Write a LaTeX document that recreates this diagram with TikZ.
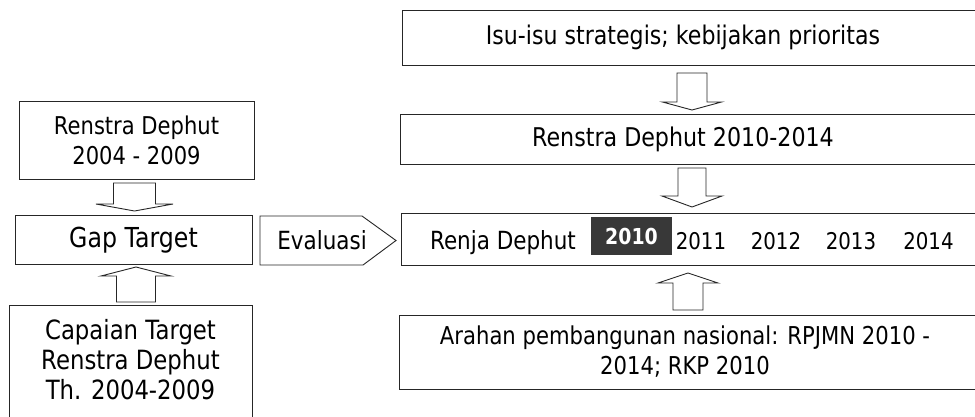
\documentclass[tikz,border=0pt]{standalone}
\usepackage{fontspec}
\setmainfont{DejaVu Sans}[FakeStretch=0.86]
\usetikzlibrary{calc}
\tikzset{
  boxline/.style={draw=black!85, line width=0.9pt},
  boxnode/.style={boxline, inner sep=0pt, outer sep=0pt},
  txt/.style={inner sep=0pt, outer sep=0pt, align=center, text=black},
  arrowshape/.style={boxline, fill=white, line join=miter},
}
\newcommand{\blkarrow}[7]{%
  \path ($(#1)!#3!(#2)$) coordinate (bs) ($(#2)!#4!(#1)$) coordinate (bt);
  \path ($(bt)!#5!(bs)$) coordinate (bb);
  \draw[arrowshape] ($(bs)!#6!90:(bt)$) -- ($(bb)!#6!90:(bt)$) -- ($(bb)!#7!90:(bt)$) -- (bt)
     -- ($(bb)!#7!-90:(bt)$) -- ($(bb)!#6!-90:(bt)$) -- ($(bs)!#6!-90:(bt)$) -- cycle;}
\begin{document}
\begin{tikzpicture}[x=1pt,y=-1pt]
\useasboundingbox (0,0) rectangle (975,416);
\clip (0,0) rectangle (975,416);
\fill[white] (0,0) rectangle (975,416);

% left column boxes
\node[boxnode, minimum width=235pt, minimum height=78pt] (r04) at (136.5,140) {};
\node[boxnode, minimum width=237pt, minimum height=49pt] (gap) at (133.5,239.5) {};
\node[boxnode, minimum width=243pt, minimum height=125pt] (cap) at (130.5,367.5) {};

% right column boxes (open to the right edge)
\node[boxnode, minimum width=588pt, minimum height=55pt] (isu) at (696,37.5) {};
\node[boxnode, minimum width=590pt, minimum height=50pt] (ren10) at (695,139) {};
\node[boxnode, minimum width=589pt, minimum height=52pt] (renja) at (695.5,239) {};
\node[boxnode, minimum width=591pt, minimum height=74pt] (arahan) at (694.5,352) {};

% Evaluasi pentagon
\draw[boxline, line join=miter] (260,216) -- (362,216) -- (396,240.5) -- (363,265) -- (260,265) -- cycle;

% texts
\node[txt, font=\fontsize{24.5}{30}\selectfont] (r04T) at (136.5,140) {Renstra Dephut\\2004 - 2009};
\node[txt, font=\fontsize{27.5}{30}\selectfont] (gapT) at (133.5,240) {Gap Target};
\node[txt, font=\fontsize{26.5}{30}\selectfont] (capT) at (130.5,360) {Capaian Target\\Renstra Dephut\\Th. 2004-2009};
\node[txt, font=\fontsize{25}{30}\selectfont] (evalT) at (322,240.5) {Evaluasi};
\node[txt, font=\fontsize{25.7}{30}\selectfont] (isuT) at (683,37.5) {Isu-isu strategis; kebijakan prioritas};
\node[txt, font=\fontsize{25.8}{30}\selectfont] (ren10T) at (683,139) {Renstra Dephut 2010-2014};
\node[txt, font=\fontsize{25}{30}\selectfont, anchor=base west] (renjaT) at (430,249) {Renja Dephut};
\node[inner sep=0pt, fill=black!78, minimum width=81pt, minimum height=38pt, text=white,
      font=\fontsize{22}{24}\bfseries] (y2010) at (631.5,236) {2010};
\node[txt, font=\fontsize{23}{30}\selectfont, anchor=base] (y2011) at (701,249) {2011};
\node[txt, font=\fontsize{23}{30}\selectfont, anchor=base] (y2012) at (776,249) {2012};
\node[txt, font=\fontsize{23}{30}\selectfont, anchor=base] (y2013) at (851,249) {2013};
\node[txt, font=\fontsize{23}{30}\selectfont, anchor=base] (y2014) at (928.5,249) {2014};
\node[txt, font=\fontsize{24.6}{30}\selectfont] (arahanT) at (685,352) {Arahan pembangunan nasional: RPJMN 2010 -\\2014; RKP 2010};

% block arrows
\coordinate (a1f) at ($(r04.south)+(-2,0)$);   \coordinate (a1t) at (a1f |- gap.north);
\coordinate (a2f) at ($(cap.north)+(5.5,0)$);  \coordinate (a2t) at (a2f |- gap.south);
\coordinate (a3f) at ($(isu.south)+(-4,0)$);   \coordinate (a3t) at (a3f |- ren10.north);
\coordinate (a4f) at ($(ren10.south)+(-3,0)$); \coordinate (a4t) at (a4f |- renja.north);
\coordinate (a5f) at ($(arahan.north)+(-6.5,0)$); \coordinate (a5t) at (a5f |- renja.south);
\blkarrow{a1f}{a1t}{4pt}{4pt}{7pt}{21pt}{38.5pt}
\blkarrow{a2f}{a2t}{3pt}{3pt}{9pt}{19.5pt}{35pt}
\blkarrow{a3f}{a3t}{8pt}{4pt}{8pt}{15pt}{29.5pt}
\blkarrow{a4f}{a4t}{4pt}{6pt}{11pt}{14pt}{30pt}
\blkarrow{a5f}{a5t}{5pt}{8pt}{10pt}{15pt}{30pt}
\end{tikzpicture}
\end{document}
